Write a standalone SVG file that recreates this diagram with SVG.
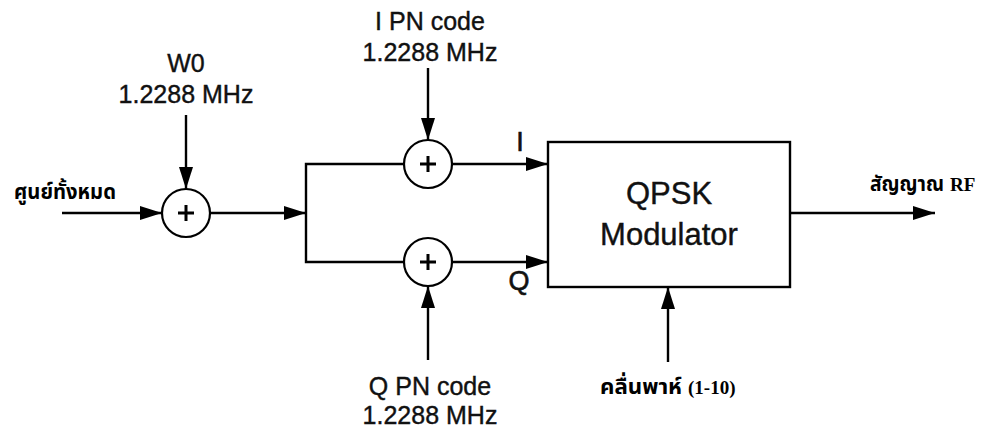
<svg xmlns="http://www.w3.org/2000/svg" width="981" height="432" viewBox="0 0 981 432">
<defs>
<marker id="ah" viewBox="0 0 22 14" refX="22" refY="7" markerWidth="22" markerHeight="14" markerUnits="userSpaceOnUse" orient="auto">
<path d="M0,0 L22,7 L0,14 Z" fill="#000"/>
</marker>
<style>
.ln{stroke:#000;stroke-width:2.4;fill:none}
.ar{stroke:#000;stroke-width:2.4;fill:none;marker-end:url(#ah)}
.sum{stroke:#000;stroke-width:2.2;fill:#fff}
.plus{stroke:#000;stroke-width:3;fill:none}
.lbl{font-family:"Liberation Sans",Arial,sans-serif;font-size:25px;text-anchor:middle;fill:#111;stroke:#111;stroke-width:0.4}
.iq{font-family:"Liberation Sans",Arial,sans-serif;font-size:27px;text-anchor:middle;fill:#111;stroke:#111;stroke-width:0.6}
.big{font-family:"Liberation Sans",Arial,sans-serif;font-size:31px;text-anchor:middle;fill:#111;stroke:#111;stroke-width:0.4}
.th{font-family:"Noto Sans Thai","Noto Sans","Liberation Serif",serif;font-size:21px;font-weight:bold;fill:#000}
.rf{font-family:"Liberation Serif","Times New Roman",serif;font-size:19px;font-weight:bold;fill:#000}
</style>
</defs>
<rect width="981" height="432" fill="#fff"/>
<g id="connectors">
<line class="ar" x1="62" y1="213" x2="162" y2="213"/>
<line class="ar" x1="186" y1="115" x2="186" y2="189"/>
<line class="ar" x1="210" y1="213" x2="306" y2="213"/>
<polyline class="ln" points="404,164 306,164 306,262 404,262"/>
<line class="ar" x1="428" y1="68" x2="428" y2="140"/>
<line class="ar" x1="428" y1="360" x2="428" y2="286"/>
<line class="ar" x1="452" y1="164" x2="548" y2="164"/>
<line class="ar" x1="452" y1="262" x2="548" y2="262"/>
<line class="ar" x1="668" y1="362" x2="668" y2="287"/>
<line class="ar" x1="790" y1="213" x2="935" y2="213"/>
</g>
<g id="input">
<text class="th" x="14" y="199" textLength="102" lengthAdjust="spacingAndGlyphs">ศูนย์ทั้งหมด</text>
</g>
<g id="w0">
<text class="lbl" x="186" y="72">W0</text>
<text class="lbl" x="186" y="103">1.2288 MHz</text>
</g>
<g id="sum1">
<circle class="sum" cx="186" cy="213" r="24"/>
<path class="plus" d="M186,205 V221 M178,213 H194"/>
</g>
<g id="ipn">
<text class="lbl" x="430" y="30">I PN code</text>
<text class="lbl" x="430" y="61">1.2288 MHz</text>
</g>
<g id="sum2">
<circle class="sum" cx="428" cy="164" r="24"/>
<path class="plus" d="M428,156 V172 M420,164 H436"/>
</g>
<g id="sum3">
<circle class="sum" cx="428" cy="262" r="24"/>
<path class="plus" d="M428,254 V270 M420,262 H436"/>
</g>
<g id="qpn">
<text class="lbl" x="430" y="395">Q PN code</text>
<text class="lbl" x="430" y="424">1.2288 MHz</text>
</g>
<g id="labelI"><text class="iq" x="520" y="151">I</text></g>
<g id="labelQ"><text class="iq" x="519" y="290">Q</text></g>
<g id="modulator">
<rect x="548" y="142" width="242" height="145" fill="#fff" stroke="#000" stroke-width="2.4"/>
<text class="big" x="669" y="204">QPSK</text>
<text class="big" x="669" y="245">Modulator</text>
</g>
<g id="carrier">
<text class="th" x="600" y="394" textLength="82" lengthAdjust="spacingAndGlyphs">คลื่นพาห์</text>
<text class="rf" x="688" y="394">(1-10)</text>
</g>
<g id="output">
<text class="th" x="870" y="191" textLength="74" lengthAdjust="spacingAndGlyphs">สัญญาณ</text>
<text class="rf" x="950" y="191">RF</text>
</g>
</svg>
